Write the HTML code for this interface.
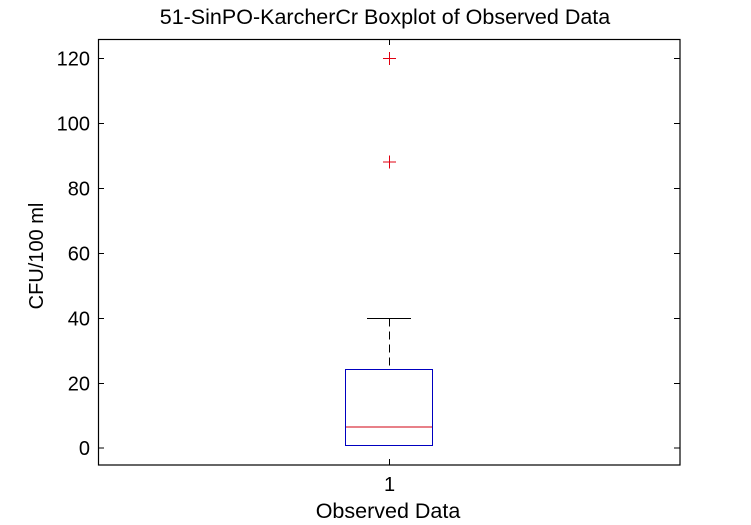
<!DOCTYPE html>
<html><head><meta charset="utf-8"><style>html,body{margin:0;padding:0;background:#fff}</style></head>
<body>
<svg width="751" height="525" xmlns="http://www.w3.org/2000/svg" style="display:block;font-family:'Liberation Sans',sans-serif">
<rect width="751" height="525" fill="#fff"/>
<text x="385" y="24" text-anchor="middle" font-size="21.5">51-SinPO-KarcherCr Boxplot of Observed Data</text>
<rect x="98.5" y="39.5" width="581.5" height="425.5" fill="none" stroke="#000" stroke-width="1.2"/>
<g stroke="#000" stroke-width="1">
<line x1="98.5" y1="58.5" x2="104" y2="58.5"/><line x1="674" y1="58.5" x2="680" y2="58.5"/>
<line x1="98.5" y1="123.5" x2="104" y2="123.5"/><line x1="674" y1="123.5" x2="680" y2="123.5"/>
<line x1="98.5" y1="188.5" x2="104" y2="188.5"/><line x1="674" y1="188.5" x2="680" y2="188.5"/>
<line x1="98.5" y1="253.5" x2="104" y2="253.5"/><line x1="674" y1="253.5" x2="680" y2="253.5"/>
<line x1="98.5" y1="318.5" x2="104" y2="318.5"/><line x1="674" y1="318.5" x2="680" y2="318.5"/>
<line x1="98.5" y1="383.5" x2="104" y2="383.5"/><line x1="674" y1="383.5" x2="680" y2="383.5"/>
<line x1="98.5" y1="448" x2="104" y2="448"/><line x1="674" y1="448" x2="680" y2="448"/>
<line x1="389.5" y1="39.5" x2="389.5" y2="45"/><line x1="389.5" y1="459" x2="389.5" y2="465"/>
</g>
<g font-size="20" text-anchor="end">
<text x="90" y="65.5">120</text><text x="90" y="130.5">100</text><text x="90" y="195.5">80</text>
<text x="90" y="260.5">60</text><text x="90" y="325.5">40</text><text x="90" y="390.5">20</text><text x="90" y="455">0</text>
</g>
<text x="389.5" y="491" text-anchor="middle" font-size="20">1</text>
<text x="388" y="518" text-anchor="middle" font-size="21.5">Observed Data</text>
<text transform="translate(43,256) rotate(-90)" text-anchor="middle" font-size="20">CFU/100 ml</text>
<line x1="389.5" y1="318.5" x2="389.5" y2="369" stroke="#000" stroke-dasharray="8,5"/>
<line x1="367" y1="318.5" x2="411" y2="318.5" stroke="#000"/>
<rect x="345.5" y="369.5" width="87" height="76" fill="none" stroke="#0000c0"/>
<line x1="346" y1="427" x2="432" y2="427" stroke="#d00010"/>
<g stroke="#e00010" stroke-width="1">
<line x1="383" y1="58.5" x2="396" y2="58.5"/><line x1="389.5" y1="52" x2="389.5" y2="65"/>
<line x1="383" y1="162" x2="396" y2="162"/><line x1="389.5" y1="155.5" x2="389.5" y2="168.5"/>
</g>
</svg>
</body></html>
